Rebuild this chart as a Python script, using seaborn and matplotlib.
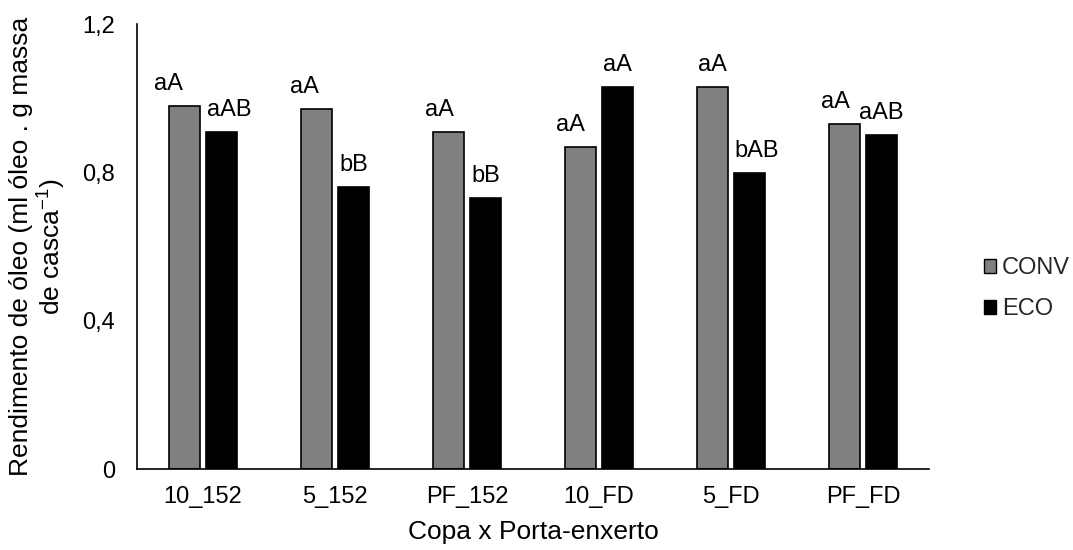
import matplotlib
matplotlib.use("Agg")
import matplotlib.pyplot as plt
from matplotlib.ticker import FuncFormatter
from matplotlib.patches import Patch
import seaborn as sns
import pandas as pd

categories = ["10_152", "5_152", "PF_152", "10_FD", "5_FD", "PF_FD"]
conv = [0.98, 0.97, 0.91, 0.87, 1.03, 0.93]
eco = [0.91, 0.76, 0.73, 1.03, 0.80, 0.90]
conv_letters = ["aA", "aA", "aA", "aA", "aA", "aA"]
eco_letters = ["aAB", "bB", "bB", "aA", "bAB", "aAB"]
series = ["CONV", "ECO"]
colors = {"CONV": "#808080", "ECO": "#000000"}

# horizontal nudges (pixels) that keep neighbouring letters apart
conv_nudge = [-16, -12, -9, -10, 0, -9]
eco_nudge = [8, 0, 0, 0, 7, 0]

df = pd.DataFrame({
    "cat": categories * 2,
    "sist": ["CONV"] * len(categories) + ["ECO"] * len(categories),
    "val": conv + eco,
})

sns.set_theme(style="white")
plt.rcParams["font.family"] = ["Liberation Sans", "DejaVu Sans"]

TICK_FS = 17
TITLE_FS = 19

fig = plt.figure(figsize=(10.73, 5.5), dpi=100)
ax = fig.add_axes([0.1277, 0.147, 0.738, 0.809])

sns.barplot(data=df, x="cat", y="val", hue="sist", order=categories,
            hue_order=series, palette=colors, width=0.56, gap=0.15,
            edgecolor="black", linewidth=1.2, legend=False, ax=ax)

# letters above each bar
letters = {"CONV": conv_letters, "ECO": eco_letters}
nudges = {"CONV": conv_nudge, "ECO": eco_nudge}
for container, s in zip(ax.containers, series):
    for bar, lab, dx in zip(container, letters[s], nudges[s]):
        ax.annotate(lab, (bar.get_x() + bar.get_width() / 2, bar.get_height()),
                    xytext=(dx, 16), textcoords="offset pixels",
                    ha="center", va="baseline", fontsize=TICK_FS, color="black")

ax.set_ylim(0, 1.2)
ax.set_yticks([0, 0.4, 0.8, 1.2])
ax.yaxis.set_major_formatter(FuncFormatter(
    lambda v, p: "0" if v == 0 else f"{v:.1f}".replace(".", ",")))
ax.set_xlim(-0.5, len(categories) - 0.5)
ax.tick_params(axis="both", length=0, labelsize=TICK_FS, colors="black")
ax.tick_params(axis="y", pad=16)
ax.tick_params(axis="x", pad=12)

for side in ["top", "right"]:
    ax.spines[side].set_visible(False)
for side in ["left", "bottom"]:
    ax.spines[side].set_color("black")
    ax.spines[side].set_linewidth(1.2)

ax.set_xlabel("Copa x Porta-enxerto", fontsize=TITLE_FS, color="black")
ax.xaxis.set_label_coords(0.5, -0.115)
ax.set_ylabel("Rendimento de óleo (ml óleo . g massa\nde casca$^{\\mathregular{-1}}$)",
              fontsize=TITLE_FS, color="black", linespacing=1.05)
ax.yaxis.set_label_coords(-0.088, 0.5)

handles = [Patch(facecolor=colors[s], edgecolor="black", label=s) for s in series]
fig.legend(handles=handles, loc="center left", bbox_to_anchor=(0.9085, 0.475),
           frameon=False, fontsize=TICK_FS, handlelength=0.5, handleheight=0.5,
           handletextpad=0.25, labelspacing=0.8, borderaxespad=0)

fig.savefig("out.png", dpi=100, facecolor="white")
